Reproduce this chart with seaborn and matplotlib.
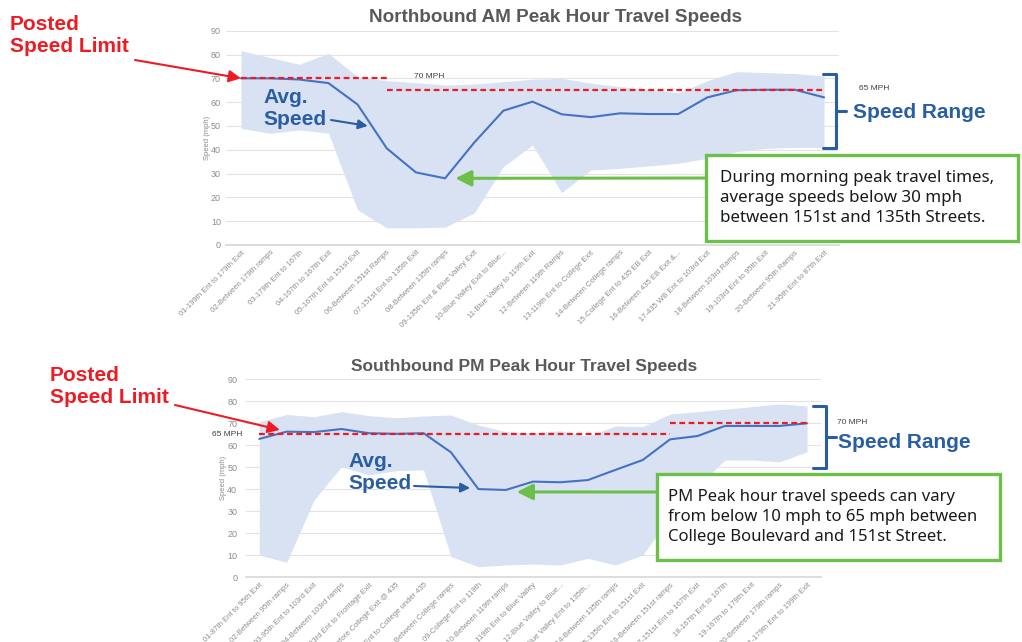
import numpy as np
import pandas as pd
import matplotlib.pyplot as plt
import seaborn as sns
from matplotlib.patches import Rectangle
from matplotlib.lines import Line2D


# === DATOS ===
nb_segments = [
    "01-199th Ent to 179th Exit", "02-Between 179th ramps", "03-179th Ent to 167th",
    "04-167th to 167th Exit", "05-167th Ent to 151st Exit", "06-Between 151st Ramps",
    "07-151st Ent to 135th Exit", "08-Between 135th ramps", "09-135th Ent & Blue Valley Exit",
    "10-Blue Valley Exit to Blue...", "11-Blue Valley to 119th Exit", "12-Between 119th Ramps",
    "13-119th Ent to College Exit", "14-Between College ramps", "15-College Ent to 435 EB Exit",
    "16-Between 435 EB Exit &...", "17-435 WB Ent to 103rd Exit", "18-Between 103rd Ramps",
    "19-103rd Ent to 95th Exit", "20-Between 95th Ramps", "21-95th Ent to 87th Exit",
]
nb_avg = [70, 70, 69.5, 68, 59, 40.6, 30.5, 28, 43, 56.4, 60.2, 54.9, 53.7, 55.3, 55, 55,
          62, 65, 65.2, 65.2, 62]
nb_max = [81.6, 78.7, 75.9, 80.5, 70.7, 69, 68.2, 67.2, 67.6, 68.6, 69.6, 70, 68, 66.5,
          65.4, 64, 69, 72.8, 72.4, 72, 71]
nb_min = [49, 46.9, 48.3, 47, 14.7, 7.2, 7.2, 7.5, 13.4, 32.9, 42, 22, 31.5, 32.2, 33.2,
          34.3, 36.4, 39.2, 40.6, 41, 41]
nb_limits = [70, 65]
nb_limit_breaks = [0, 5, 20]

sb_segments = [
    "01-87th Ent to 95th Exit", "02-Between 95th ramps", "03-95th Ent to 103rd Exit",
    "04-Between 103rd ramps", "05-103rd Ent to Frontage Exit", "06-Before College Exit @ 435",
    "07-Ent to College under 435", "08-Between College ramps", "09-College Ent to 119th",
    "10-Between 119th ramps", "11-119th Ent to Blue Valley", "12-Blue Valley to Blue...",
    "13-Blue Valley Ent to 135th...", "14-Between 135th ramps", "15-135th Ent to 151st Exit",
    "16-Between 151st ramps", "17-151st Ent to 167th Exit", "18-167th Ent to 167th",
    "19-167th to 179th Exit", "20-Between 179th ramps", "21-179th Ent to 199th Exit",
]
sb_avg = [62.9, 66.2, 66, 67.4, 65.5, 65.2, 65.5, 56.8, 40.1, 39.7, 43.5, 43.2, 44.2, 48.8,
          53.3, 62.7, 64.2, 68.8, 68.8, 68.8, 70]
sb_max = [70.7, 74, 73, 75.3, 73.5, 72.5, 73.3, 73.8, 69.2, 66.2, 65.7, 66.6, 64.2, 68.8,
          68.5, 74.2, 75.3, 76.4, 77.6, 78.8, 77.9]
sb_min = [10.1, 6.8, 35.1, 50.3, 46.5, 48.5, 48.8, 9.4, 4.8, 5.6, 6, 5.6, 8.6, 5.6, 10.1,
          27.5, 41.2, 53.3, 53.3, 52.5, 57]
sb_limits = [65, 70]
sb_limit_breaks = [0, 15, 20]

# === ESTILO ===
RED = "#ed1c24"
BLUE_LINE = "#4472c4"
BAND = "#d9e2f3"
NAVY = "#2a5ea3"
GREEN = "#6cc04a"
GRAY_T = "#595959"
TICK = "#8c8c8c"
W, H = 1022, 642

sns.set_theme(style="white")
plt.rcParams['font.family'] = ['Liberation Sans', 'DejaVu Sans']


def fx(px):
    return px / W


def fy(py):
    return 1 - py / H


def draw_chart(ax, segments, avg, vmin, vmax, limits, breaks, ypad, lpad):
    df = pd.DataFrame({"pos": np.arange(len(segments)), "avg": avg,
                       "min": vmin, "max": vmax})
    ax.fill_between(df["pos"], df["min"], df["max"], color=BAND, lw=0, zorder=1)
    sns.lineplot(data=df, x="pos", y="avg", ax=ax, color=BLUE_LINE, lw=1.5, zorder=3)
    for i, lim in enumerate(limits):
        ax.hlines(lim, breaks[i], breaks[i + 1], colors=RED, lw=1.6,
                  linestyles=(0, (2.6, 1.6)), zorder=4)
    ax.set_xlim(-0.5, len(segments) - 0.5)
    ax.set_ylim(0, 90)
    ax.set_yticks(range(0, 91, 10))
    ax.set_xticks(df["pos"])
    ax.set_xticklabels(segments, rotation=45, ha="right", rotation_mode="anchor",
                       fontsize=5.5, color=TICK)
    ax.tick_params(axis="y", labelsize=6.5, colors=TICK, length=0, pad=ypad)
    ax.tick_params(axis="x", length=0, pad=3)
    ax.grid(axis="y", color="#e3e3e3", lw=0.8)
    ax.set_axisbelow(True)
    for s in ["top", "right", "left"]:
        ax.spines[s].set_visible(False)
    ax.spines["bottom"].set_color("#d9d9d9")
    ax.set_xlabel("")
    ax.set_ylabel("Speed (mph)", fontsize=5.5, color=TICK, labelpad=lpad)


fig = plt.figure(figsize=(W / 100, H / 100), dpi=100)
ax1 = fig.add_axes([fx(226.4), fy(245), fx(838.6) - fx(226.4), fy(30.7) - fy(245)])
ax2 = fig.add_axes([fx(245.6), fy(577.3), fx(820.7) - fx(245.6), fy(379.3) - fy(577.3)])

draw_chart(ax1, nb_segments, nb_avg, nb_min, nb_max, nb_limits, nb_limit_breaks, 4, 0)
draw_chart(ax2, sb_segments, sb_avg, sb_min, sb_max, sb_limits, sb_limit_breaks, 6, 0)

fig.text(fx(555), fy(17), "Northbound AM Peak Hour Travel Speeds", fontsize=13.6,
         fontweight="bold", color=GRAY_T, ha="center", va="center")
fig.text(fx(524), fy(367), "Southbound PM Peak Hour Travel Speeds", fontsize=12.5,
         fontweight="bold", color=GRAY_T, ha="center", va="center")

big = dict(fontsize=15, fontweight="bold", linespacing=1.2, va="top", ha="left")
small = dict(fontsize=6, color="#404040", va="center", ha="left")
box_txt = dict(color="#1a1a1a", va="center", ha="left", linespacing=1.3,
               family=["Noto Sans", "DejaVu Sans"])


def arrow(ax, xy, xytext, color, lw, ms):
    ax.annotate("", xy=xy, xycoords="data", xytext=xytext, textcoords="figure fraction",
                arrowprops=dict(arrowstyle="-|>", color=color, lw=lw,
                                mutation_scale=ms, shrinkA=0, shrinkB=0), zorder=6,
                annotation_clip=False)


def bracket(x, y0, y1, ym, hook, tick):
    for xs, ys in [([x - hook, x, x, x - hook], [y0, y0, y1, y1]), ([x, x + tick], [ym, ym])]:
        fig.add_artist(Line2D([fx(v) for v in xs], [fy(v) for v in ys], color=NAVY,
                              lw=2.2, transform=fig.transFigure))


def green_box(x0, y0, x1, y1, tx, text, size):
    fig.add_artist(Rectangle((fx(x0), fy(y1)), fx(x1) - fx(x0), fy(y0) - fy(y1),
                             transform=fig.transFigure, fill=True, fc="white",
                             ec=GREEN, lw=2.4, zorder=5))
    fig.text(fx(tx), fy((y0 + y1) / 2), text, zorder=6, fontsize=size, **box_txt)


# --- Northbound annotations ---
fig.text(fx(10), fy(15), "Posted\nSpeed Limit", color=RED, **big)
arrow(ax1, (0, 70), (fx(135), fy(60)), RED, 1.5, 18)
fig.text(fx(263), fy(88), "Avg.\nSpeed", color=NAVY, **big)
arrow(ax1, (4.35, 50), (fx(331), fy(120)), NAVY, 1.5, 14)
fig.text(fx(414), fy(76), "70 MPH", **small)
fig.text(fx(859), fy(88), "65 MPH", **small)
bracket(836, 74, 148, 111, 13, 10)
fig.text(fx(853), fy(113), "Speed Range", color=NAVY, fontsize=15, fontweight="bold",
         va="center", ha="left")
green_box(706, 155, 1018, 241, 720,
          "During morning peak travel times,\naverage speeds below 30 mph\n"
          "between 151st and 135th Streets.", 12.2)
arrow(ax1, (7.35, 28), (fx(706), fy(178)), GREEN, 2.2, 24)

# --- Southbound annotations ---
fig.text(fx(50), fy(366), "Posted\nSpeed Limit", color=RED, **big)
arrow(ax2, (0.75, 67), (fx(175), fy(405)), RED, 1.5, 18)
fig.text(fx(212), fy(434), "65 MPH", **small)
fig.text(fx(348), fy(452), "Avg.\nSpeed", color=NAVY, **big)
arrow(ax2, (7.7, 40.6), (fx(414), fy(486)), NAVY, 1.5, 14)
fig.text(fx(837), fy(423), "70 MPH", **small)
bracket(826, 406, 468, 437, 13, 10)
fig.text(fx(838), fy(442), "Speed Range", color=NAVY, fontsize=15, fontweight="bold",
         va="center", ha="left")
green_box(657, 474, 1000, 560, 668,
          "PM Peak hour travel speeds can vary\nfrom below 10 mph to 65 mph between\n"
          "College Boulevard and 151st Street.", 12)
arrow(ax2, (9.4, 38.8), (fx(657), fy(492)), GREEN, 2.2, 24)

fig.savefig("out.png", dpi=100)
